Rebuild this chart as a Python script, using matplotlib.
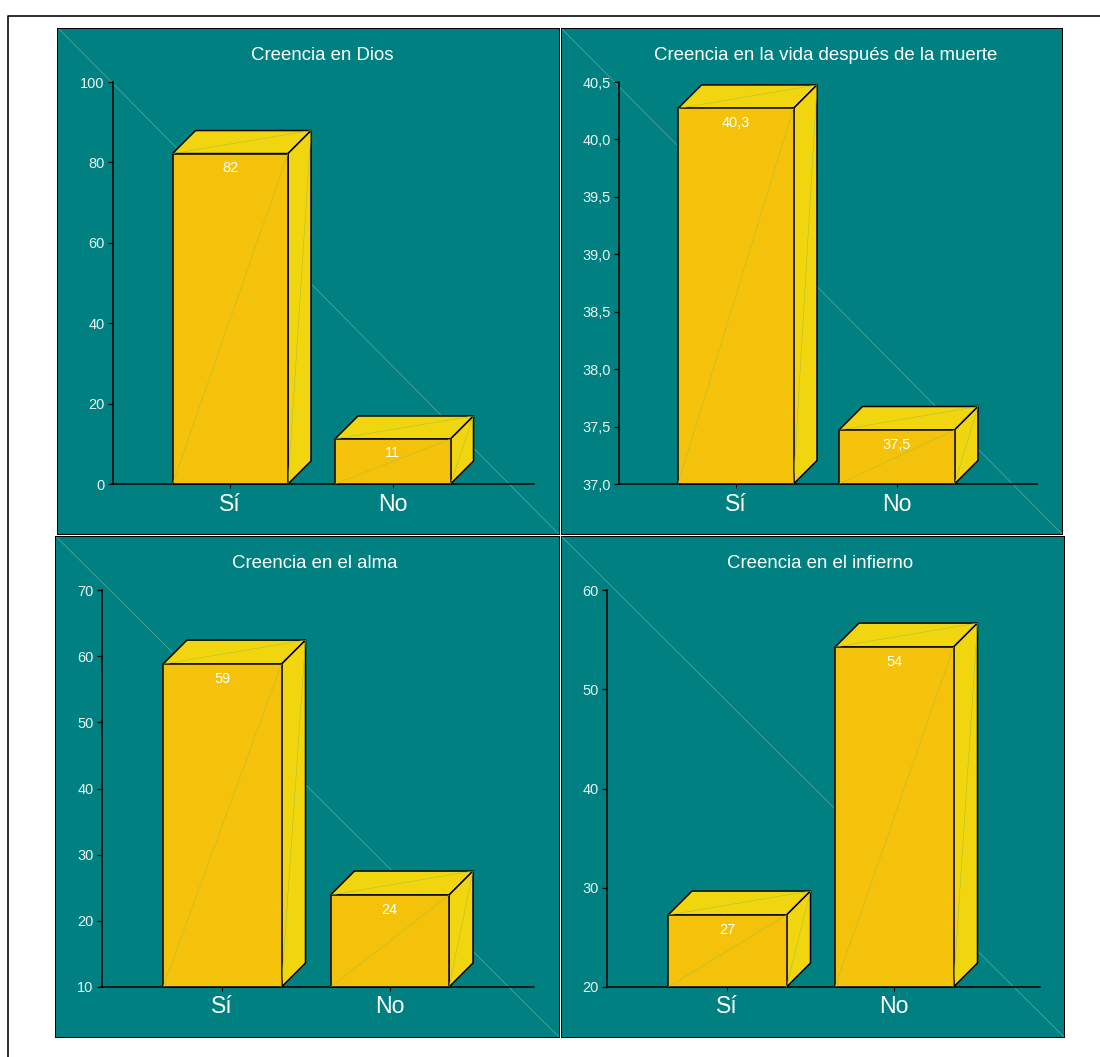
import matplotlib
matplotlib.use("Agg")
import matplotlib.pyplot as plt
from matplotlib.patches import Polygon, Rectangle
from matplotlib.lines import Line2D

plt.rcParams['font.family'] = ['Liberation Sans', 'DejaVu Sans']

W, H = 1100, 1057
PX = 72 / 100

categories = ['Sí', 'No']
titles = ['Creencia en Dios', 'Creencia en la vida después de la muerte',
          'Creencia en el alma', 'Creencia en el infierno']
values = [[82.2, 11.2], [40.27, 37.47], [58.8, 23.9], [27.25, 54.25]]
value_labels = [['82', '11'], ['40,3', '37,5'], ['59', '24'], ['27', '54']]
y_limits = [(0, 100), (37.0, 40.5), (10, 70), (20, 60)]
y_ticks = [[0, 20, 40, 60, 80, 100],
           [37.0, 37.5, 38.0, 38.5, 39.0, 39.5, 40.0, 40.5],
           [10, 20, 30, 40, 50, 60, 70],
           [20, 30, 40, 50, 60]]
y_ticklabels = [['0', '20', '40', '60', '80', '100'],
                ['37,0', '37,5', '38,0', '38,5', '39,0', '39,5', '40,0', '40,5'],
                ['10', '20', '30', '40', '50', '60', '70'],
                ['20', '30', '40', '50', '60']]
# panel box (left, top, right, bottom) in pixels
panels = [(57.5, 27.5, 558.5, 534), (560.5, 27.5, 1062, 534),
          (55, 535.5, 559, 1037), (560.5, 535.5, 1064, 1037)]
# plot area (left, top, right, bottom) in pixels
plots = [(112.5, 82, 533.5, 484), (618.5, 82, 1037, 484),
         (101.5, 590, 534, 987), (606.5, 590, 1040, 987)]
# bar left edges and bar width in pixels, depth in pixels
bar_lefts = [(172.5, 335), (678, 839), (163, 330.5), (668, 835)]
bar_widths = [115.5, 115.5, 118.5, 118.5]
depths = [23, 23.5, 24, 24]
title_shift = [-1, -2.5, -2.5, -3]
xlabel_pad = [5, 5, 4, 4]

TEAL = '#008080'
FRONT = '#F4C20A'
SIDE = '#F1D60F'
DIAG = '#6FB5A8'
TXT = '#EAF5F3'
INNER = '#A8BE3C'

fig = plt.figure(figsize=(W / 100, H / 100), dpi=100, facecolor='white')


def axes_px(l, t, r, b, **kw):
    return fig.add_axes([l / W, 1 - b / H, (r - l) / W, (b - t) / H], **kw)


# outer frame
fig.add_artist(Line2D([7.5 / W, 7.5 / W, 1], [0, 1 - 16 / H, 1 - 16 / H],
                      color='black', lw=1.6 * PX))

for i in range(4):
    pl, pt, pr, pb = panels[i]
    bg = axes_px(pl, pt, pr, pb)
    bg.set_facecolor(TEAL)
    bg.set_xlim(0, 1)
    bg.set_ylim(1, 0)
    bg.set_xticks([])
    bg.set_yticks([])
    for s in bg.spines.values():
        s.set_linewidth(1.0 * PX)
        s.set_color('black')
    bg.plot([0, 1], [0, 1], color=DIAG, lw=0.55 * PX)

    l, t, r, b = plots[i]
    ax = axes_px(l, t, r, b)
    ax.patch.set_alpha(0)
    lefts = bar_lefts[i]
    bw = bar_widths[i]
    d = depths[i]
    spacing = lefts[1] - lefts[0]
    c0 = lefts[0] + bw / 2
    ax.set_xlim((l - c0) / spacing, (r - c0) / spacing)
    y0, y1 = y_limits[i]
    ax.set_ylim(y0, y1)
    dx = d / spacing
    dy = d / (b - t) * (y1 - y0)
    hw = bw / spacing / 2

    for k, v in enumerate(values[i]):
        xa, xb = k - hw, k + hw
        edge = dict(edgecolor='black', linewidth=1.5 * PX, clip_on=False, zorder=3, joinstyle='round')
        ax.add_patch(Polygon([(xa, v), (xb, v), (xb + dx, v + dy), (xa + dx, v + dy)],
                             facecolor=SIDE, **edge))
        ax.add_patch(Polygon([(xb, y0), (xb + dx, y0 + dy), (xb + dx, v + dy), (xb, v)],
                             facecolor=SIDE, **edge))
        ax.add_patch(Rectangle((xa, y0), xb - xa, v - y0, facecolor=FRONT, **edge))
        for (xs, ys) in [([xa, xb], [y0, v]), ([xa, xb + dx], [v, v + dy]), ([xb, xb + dx], [y0, v + dy])]:
            ax.plot(xs, ys, color=INNER, lw=0.5 * PX, zorder=4, clip_on=False)
        ax.annotate(value_labels[i][k], xy=(k, v), xytext=(0, -14.5 * PX), textcoords='offset points',
                    ha='center', va='center', color='white', fontsize=14.5 * PX, zorder=5)

    ax.set_xticks([0, 1])
    ax.set_xticklabels(categories, fontsize=23 * PX, color='white')
    ax.set_yticks(y_ticks[i])
    ax.set_yticklabels(y_ticklabels[i], fontsize=14.5 * PX, color=TXT)
    ax.tick_params(axis='y', length=5 * PX, width=1.2 * PX, pad=3 * PX, color='black')
    ax.tick_params(axis='x', length=4 * PX, width=1 * PX, pad=xlabel_pad[i] * PX, color='black')
    for s in ('top', 'right'):
        ax.spines[s].set_visible(False)
    for s in ('left', 'bottom'):
        ax.spines[s].set_linewidth(1.5 * PX)
        ax.spines[s].set_color('black')
        ax.spines[s].set_zorder(2)
    ax.annotate(titles[i], xy=(0.5, 1), xycoords='axes fraction', xytext=(title_shift[i] * PX, 26.5 * PX),
                textcoords='offset points', ha='center', va='center', color='white', fontsize=18.6 * PX)

fig.savefig('out.png', dpi=100, facecolor='white')
